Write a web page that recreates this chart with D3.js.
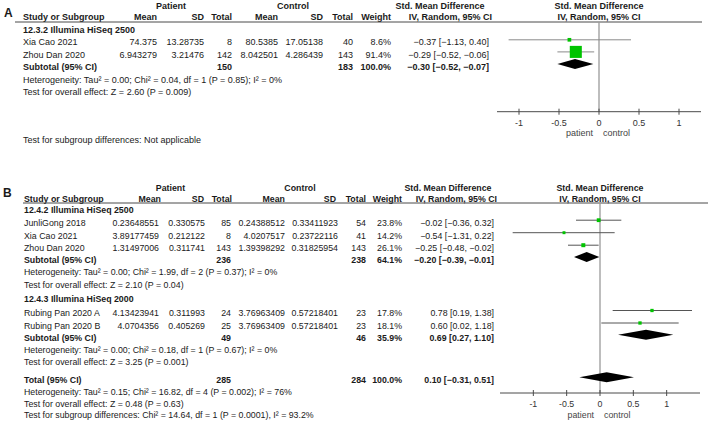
<!DOCTYPE html>
<html>
<head>
<meta charset="utf-8">
<script src="https://cdn.jsdelivr.net/npm/d3@7/dist/d3.min.js"></script>
<style>
  html, body { margin: 0; padding: 0; background: #fff; }
  svg { display: block; }
  text { font-family: "Liberation Sans", Arial, sans-serif; fill: #1a1a1a; }
  .b { font-weight: bold; }
</style>
</head>
<body>
<svg id="chart" width="708" height="425"></svg>
<script>
// ---------------- DATA ----------------
// Panel A
const subgroupA = "12.3.2 Illumina HiSeq 2500";
const studyA   = ["Xia Cao 2021", "Zhou Dan 2020"];
const pMeanA   = ["74.375", "6.943279"];
const pSdA     = ["13.28735", "3.21476"];
const pNA      = [8, 142];
const cMeanA   = ["80.5385", "8.042501"];
const cSdA     = ["17.05138", "4.286439"];
const cNA      = [40, 143];
const weightA  = [8.6, 91.4];
const smdA     = [-0.37, -0.29];
const loA      = [-1.13, -0.52];
const hiA      = [0.40, -0.06];
const subA     = { pN: 150, cN: 183, w: 100.0, smd: -0.30, lo: -0.52, hi: -0.07 };
const hetA     = "Heterogeneity: Tau² = 0.00; Chi² = 0.04, df = 1 (P = 0.85); I² = 0%";
const testA    = "Test for overall effect: Z = 2.60 (P = 0.009)";
const subDiffA = "Test for subgroup differences: Not applicable";

// Panel B, subgroup 1
const subgroupB1 = "12.4.2 Illumina HiSeq 2500";
const studyB1  = ["JunliGong 2018", "Xia Cao 2021", "Zhou Dan 2020"];
const pMeanB1  = ["0.23648551", "3.89177459", "1.31497006"];
const pSdB1    = ["0.330575", "0.212122", "0.311741"];
const pNB1     = [85, 8, 143];
const cMeanB1  = ["0.24388512", "4.0207517", "1.39398292"];
const cSdB1    = ["0.33411923", "0.23722116", "0.31825954"];
const cNB1     = [54, 41, 143];
const weightB1 = [23.8, 14.2, 26.1];
const smdB1    = [-0.02, -0.54, -0.25];
const loB1     = [-0.36, -1.31, -0.48];
const hiB1     = [0.32, 0.22, -0.02];
const subB1    = { pN: 236, cN: 238, w: 64.1, smd: -0.20, lo: -0.39, hi: -0.01 };
const hetB1    = "Heterogeneity: Tau² = 0.00; Chi² = 1.99, df = 2 (P = 0.37); I² = 0%";
const testB1   = "Test for overall effect: Z = 2.10 (P = 0.04)";

// Panel B, subgroup 2
const subgroupB2 = "12.4.3 Illumina HiSeq 2000";
const studyB2  = ["Rubing Pan 2020 A", "Rubing Pan 2020 B"];
const pMeanB2  = ["4.13423941", "4.0704356"];
const pSdB2    = ["0.311993", "0.405269"];
const pNB2     = [24, 25];
const cMeanB2  = ["3.76963409", "3.76963409"];
const cSdB2    = ["0.57218401", "0.57218401"];
const cNB2     = [23, 23];
const weightB2 = [17.8, 18.1];
const smdB2    = [0.78, 0.60];
const loB2     = [0.19, 0.02];
const hiB2     = [1.38, 1.18];
const subB2    = { pN: 49, cN: 46, w: 35.9, smd: 0.69, lo: 0.27, hi: 1.10 };
const hetB2    = "Heterogeneity: Tau² = 0.00; Chi² = 0.18, df = 1 (P = 0.67); I² = 0%";
const testB2   = "Test for overall effect: Z = 3.25 (P = 0.001)";

// Panel B total
const totB     = { pN: 285, cN: 284, w: 100.0, smd: 0.10, lo: -0.31, hi: 0.51 };
const hetTot   = "Heterogeneity: Tau² = 0.15; Chi² = 16.82, df = 4 (P = 0.002); I² = 76%";
const testTot  = "Test for overall effect: Z = 0.48 (P = 0.63)";
const subDiffB = "Test for subgroup differences: Chi² = 14.64, df = 1 (P = 0.0001), I² = 93.2%";

const tickValues = [-1, -0.5, 0, 0.5, 1];
const tickLabels = ["-1", "-0.5", "0", "0.5", "1"];
const favourLeft = "patient";
const favourRight = "control";

// ---------------- DRAWING ----------------
const svg = d3.select("#chart");
const f2 = d3.format(".2f");
const f1 = d3.format(".1f");
const ciText = (s, l, h) => `${f2(s)} [${f2(l)}, ${f2(h)}]`;

function panel(cfg) {
  const g = svg.append("g").style("font-size", cfg.font + "px");
  const x = d3.scaleLinear().domain(cfg.domain).range(cfg.range);
  const size = d3.scaleSqrt().domain([0, 100]).range([0, cfg.maxSq]);
  const c = cfg.cols, h = cfg.hcols;

  function T(xx, y, str, opts = {}) {
    const t = g.append("text").attr("x", xx).attr("y", y).attr("dy", "0.35em").text(str);
    if (opts.anchor) t.attr("text-anchor", opts.anchor);
    if (opts.bold) t.attr("class", "b");
    if (opts.fill) t.style("fill", opts.fill);
    if (opts.size) t.style("font-size", opts.size);
    return t;
  }

  // panel letter
  T(cfg.letterX, cfg.letterY, cfg.letter, { bold: true, size: "12px" });

  // header rows
  T(cfg.patientX, cfg.hy1, "Patient", { bold: true, anchor: "middle" });
  T(cfg.controlX, cfg.hy1, "Control", { bold: true, anchor: "middle" });
  T(cfg.smdHeadX, cfg.hy1, "Std. Mean Difference", { bold: true, anchor: "middle" });
  T(x(0), cfg.hy1, "Std. Mean Difference", { bold: true, anchor: "middle" });
  T(cfg.labelX, cfg.hy2, "Study or Subgroup", { bold: true });
  const hnames = ["Mean", "SD", "Total", "Mean", "SD", "Total", "Weight", "IV, Random, 95% CI"];
  hnames.forEach((n, i) => T(h[i], cfg.hy2, n, { bold: true, anchor: "end" }));
  T(x(0), cfg.hy2, "IV, Random, 95% CI", { bold: true, anchor: "middle" });
  g.append("line").attr("x1", cfg.lineX1).attr("x2", cfg.lineX2)
    .attr("y1", cfg.lineY).attr("y2", cfg.lineY)
    .attr("stroke", "#4a4a4a").attr("stroke-width", 1);

  // zero line
  g.append("line").attr("x1", x(0)).attr("x2", x(0))
    .attr("y1", cfg.lineY).attr("y2", cfg.axisY)
    .attr("stroke", "#9a9a9a").attr("stroke-width", 1.3);

  const off = cfg.markOff;

  function studyRow(y, s) {
    T(cfg.labelX, y, s.name);
    const vals = [s.pm, s.psd, s.pn, s.cm, s.csd, s.cn, f1(s.w) + "%", ciText(s.smd, s.lo, s.hi)];
    vals.forEach((v, i) => T(c[i], y, v, { anchor: "end" }));
    g.append("line").attr("x1", x(s.lo)).attr("x2", x(s.hi))
      .attr("y1", y - off).attr("y2", y - off)
      .attr("stroke", cfg.ciColor).attr("stroke-width", 1);
    const sq = Math.max(2.4, size(s.w));
    g.append("rect").attr("x", x(s.smd) - sq / 2).attr("y", y - off - sq / 2)
      .attr("width", sq).attr("height", sq).attr("fill", "#00c400");
  }
  function totalRow(y, label, t) {
    T(cfg.labelX, y, label, { bold: true });
    T(c[2], y, t.pN, { bold: true, anchor: "end" });
    T(c[5], y, t.cN, { bold: true, anchor: "end" });
    T(c[6], y, f1(t.w) + "%", { bold: true, anchor: "end" });
    T(c[7], y, ciText(t.smd, t.lo, t.hi), { bold: true, anchor: "end" });
    const yy = y - off, hh = cfg.diaH;
    const pts = [[x(t.lo), yy], [x(t.smd), yy - hh], [x(t.hi), yy], [x(t.smd), yy + hh]];
    g.append("polygon").attr("points", pts.map(p => p.join(",")).join(" ")).attr("fill", "#000");
  }

  cfg.rows.forEach(r => {
    if (r.type === "sub") T(cfg.labelX, r.y, r.text, { bold: true });
    else if (r.type === "note") T(cfg.labelX, r.y, r.text);
    else if (r.type === "study") studyRow(r.y, r.s);
    else if (r.type === "total") totalRow(r.y, r.label, r.t);
  });

  // axis
  g.append("line").attr("x1", cfg.range[0]).attr("x2", cfg.range[1])
    .attr("y1", cfg.axisY).attr("y2", cfg.axisY)
    .attr("stroke", "#4a4a4a").attr("stroke-width", 1);
  tickValues.forEach((v, i) => {
    g.append("line").attr("x1", x(v)).attr("x2", x(v))
      .attr("y1", cfg.axisY - 3).attr("y2", cfg.axisY + 3)
      .attr("stroke", "#4a4a4a").attr("stroke-width", 1);
    T(x(v), cfg.axisY + 11, tickLabels[i], { anchor: "middle", fill: "#333" });
  });
  T(x(0) - 6, cfg.axisY + 21.5, favourLeft, { anchor: "end", fill: "#444" });
  T(x(0) + 4, cfg.axisY + 21.5, favourRight, { anchor: "start", fill: "#444" });
}

function studies(names, pm, psd, pn, cm, csd, cn, w, smd, lo, hi) {
  return names.map((n, i) => ({ name: n, pm: pm[i], psd: psd[i], pn: pn[i], cm: cm[i], csd: csd[i], cn: cn[i], w: w[i], smd: smd[i], lo: lo[i], hi: hi[i] }));
}

// Panel A
const sA = studies(studyA, pMeanA, pSdA, pNA, cMeanA, cSdA, cNA, weightA, smdA, loA, hiA);
panel({
  letter: "A", letterX: 4, letterY: 12.5, font: 9,
  domain: [-1.275, 1.275], range: [497, 701], maxSq: 12.6,
  cols:  [157, 204, 232, 278, 323, 353, 391, 489],
  hcols: [157, 204, 232, 278, 323, 353, 391, 492],
  patientX: 171, controlX: 293, smdHeadX: 440,
  hy1: 5.5, hy2: 17.3, lineY: 22, lineX1: 15, lineX2: 702,
  labelX: 23, axisY: 111.7, markOff: 2.5, diaH: 5, ciColor: "#8a8a8a",
  rows: [
    { type: "sub", y: 30, text: subgroupA },
    { type: "study", y: 42.3, s: sA[0] },
    { type: "study", y: 54.4, s: sA[1] },
    { type: "total", y: 66.5, label: "Subtotal (95% CI)", t: subA },
    { type: "note", y: 79.5, text: hetA },
    { type: "note", y: 92, text: testA },
    { type: "note", y: 140, text: subDiffA }
  ]
});

// Panel B
const sB1 = studies(studyB1, pMeanB1, pSdB1, pNB1, cMeanB1, cSdB1, cNB1, weightB1, smdB1, loB1, hiB1);
const sB2 = studies(studyB2, pMeanB2, pSdB2, pNB2, cMeanB2, cSdB2, cNB2, weightB2, smdB2, loB2, hiB2);
panel({
  letter: "B", letterX: 3, letterY: 193, font: 8.8,
  domain: [-1.5, 1.5], range: [500, 700], maxSq: 7.8,
  cols:  [159, 205, 231, 285, 338, 366, 402, 494],
  hcols: [161, 204, 232, 285, 336, 366, 402, 497],
  patientX: 170.5, controlX: 300, smdHeadX: 448,
  hy1: 187.7, hy2: 198.5, lineY: 203, lineX1: 23, lineX2: 708,
  labelX: 24, axisY: 393, markOff: 2.8, diaH: 5, ciColor: "#555",
  rows: [
    { type: "sub", y: 210, text: subgroupB1 },
    { type: "study", y: 223, s: sB1[0] },
    { type: "study", y: 235.5, s: sB1[1] },
    { type: "study", y: 248, s: sB1[2] },
    { type: "total", y: 259.8, label: "Subtotal (95% CI)", t: subB1 },
    { type: "note", y: 272.3, text: hetB1 },
    { type: "note", y: 284.7, text: testB1 },
    { type: "sub", y: 299.3, text: subgroupB2 },
    { type: "study", y: 313.3, s: sB2[0] },
    { type: "study", y: 325.8, s: sB2[1] },
    { type: "total", y: 337.5, label: "Subtotal (95% CI)", t: subB2 },
    { type: "note", y: 350, text: hetB2 },
    { type: "note", y: 361.8, text: testB2 },
    { type: "total", y: 380, label: "Total (95% CI)", t: totB },
    { type: "note", y: 391.8, text: hetTot },
    { type: "note", y: 403.5, text: testTot },
    { type: "note", y: 415.2, text: subDiffB }
  ]
});
</script>
</body>
</html>
